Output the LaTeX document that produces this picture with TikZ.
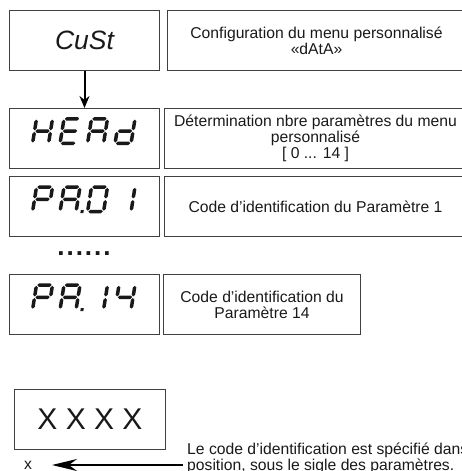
\documentclass[tikz,border=0pt]{standalone}
\usepackage{fontspec}
\setmainfont{Liberation Sans}
\usetikzlibrary{arrows.meta}

\tikzset{
  hseg/.style n args={3}{insert path={(#1,#3)--(#1+1.75,#3-1.75)--(#2-1.75,#3-1.75)
    --(#2,#3)--(#2-1.75,#3+1.75)--(#1+1.75,#3+1.75)--cycle}},
  vseg/.style n args={3}{insert path={(#3,#1)--(#3+1.75,#1+1.75)--(#3+1.75,#2-1.75)
    --(#3,#2)--(#3-1.75,#2-1.75)--(#3-1.75,#1+1.75)--cycle}},
  seg a/.style={hseg={0.8}{15.2}{0}},
  seg b/.style={vseg={0.8}{11.45}{16}},
  seg c/.style={vseg={13.05}{23.7}{16}},
  seg d/.style={hseg={0.8}{15.2}{24.5}},
  seg e/.style={vseg={13.05}{23.7}{0}},
  seg f/.style={vseg={0.8}{11.45}{0}},
  seg g/.style={hseg={0.8}{15.2}{12.25}},
  seg p/.style={insert path={(20.5,23) rectangle (23.5,26.2)}}
}
\newcommand{\segchar}[3]{%
  \begin{scope}[shift={(#1,#2)},xslant=0.16]
    \foreach \s in {#3} \fill[black!90,seg \s];
  \end{scope}}

\begin{document}
\begin{tikzpicture}[x=1pt,y=-1pt,>={Stealth[length=12pt,width=10pt]},
    every node/.style={font=\fontsize{15.7}{16}\selectfont,text=black!90},
    dispbox/.style={draw=black!75,line width=1pt,minimum width=150pt,
      minimum height=60pt,anchor=north west,inner sep=0pt},
    txtbox/.style={draw=black!75,line width=1pt,minimum height=60pt,
      anchor=north west,inner sep=0pt,align=center}]
  \useasboundingbox (0,0) rectangle (462,471);

  \node[dispbox,font=\fontsize{26.5}{26.5}\selectfont\itshape] (cust) at (9,10) {CuSt};
  \node[txtbox,minimum width=298pt] (custtxt) at (167,10) {Configuration du menu personnalisé\\«dAtA»};
  \node[dispbox] (head) at (9,108) {};
  \node[txtbox,minimum width=302pt] (headtxt) at (164,108) {Détermination nbre paramètres du menu\\personnalisé\\{[} 0 ... 14 ]};
  \node[dispbox] (pa01) at (9,176) {};
  \node[txtbox,minimum width=302pt] (pa01txt) at (164,176) {Code d’identification du Paramètre 1};
  \node[font=\fontsize{26}{26}\selectfont\bfseries] (dots) at (84,254)
    {.\kern2pt.\kern2pt.\kern2pt.\kern2pt.\kern2pt.};
  \node[dispbox] (pa14) at (9,274) {};
  \node[txtbox,minimum width=197pt] (pa14txt) at (163,274) {Code d’identification du\\Paramètre 14};
  \node[dispbox,minimum width=151pt,font=\fontsize{30}{30}\selectfont] (xxxx) at (14,389) {X X X X};
  \node (xlab) at (28,465) {x};
  \node[anchor=north west,inner sep=0pt,align=left] (note) at (187,443)
    {Le code d’identification est spécifié dans\\position, sous le sigle des paramètres.};

  \segchar{36.5}{118.8}{b,c,e,f,g}
  \segchar{64}{118.8}{a,d,e,f,g}
  \segchar{91.5}{118.8}{a,b,c,e,f,g}
  \segchar{119}{118.8}{b,c,d,e,g}
  \segchar{36.5}{187}{a,b,e,f,g}
  \segchar{64}{187}{a,b,c,e,f,g,p}
  \segchar{91.5}{187}{a,b,c,d,e,f}
  \segchar{119}{187}{b,c}
  \segchar{36.5}{285}{a,b,e,f,g}
  \segchar{64}{285}{a,b,c,e,f,g,p}
  \segchar{91.5}{285}{b,c}
  \segchar{119}{285}{b,c,f,g}

  \coordinate (arrfrom) at (183,465);
  \coordinate (arrto) at (52,465);
  \draw[->,line width=2pt] (cust) -- (head);
  \draw[-{Stealth[length=25pt,width=12pt]},line width=2.6pt] (arrfrom) -- (arrto);
\end{tikzpicture}
\end{document}
